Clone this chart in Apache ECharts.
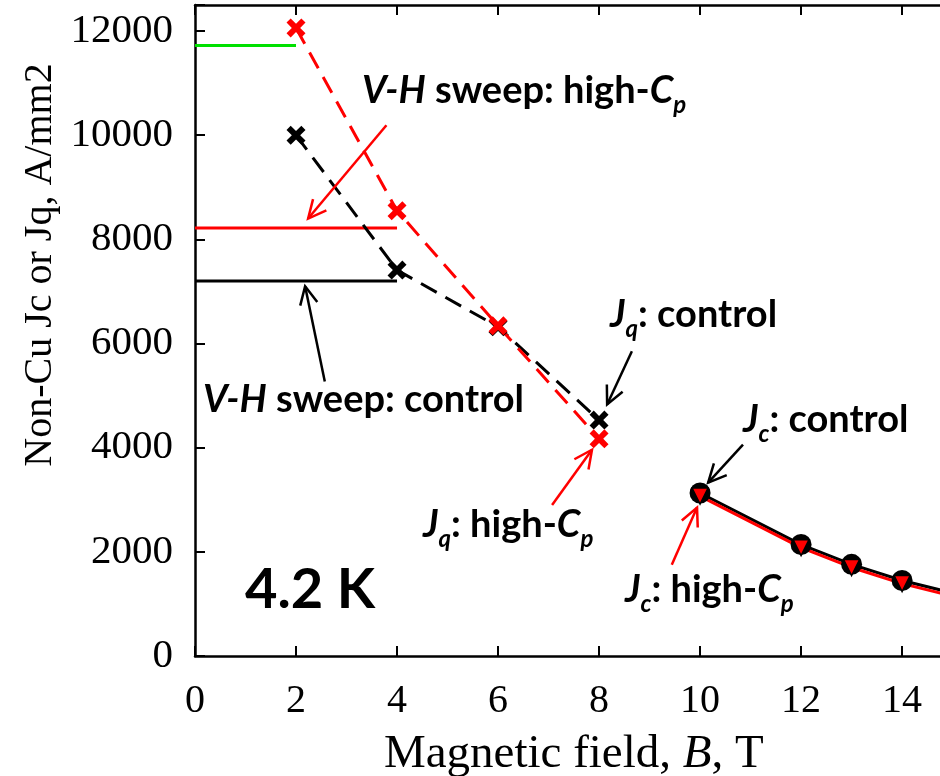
<!DOCTYPE html>
<html><head><meta charset="utf-8">
<script src="https://cdn.jsdelivr.net/npm/echarts@6/dist/echarts.min.js"></script>
<style>html,body{margin:0;padding:0;background:#fff}#c{width:940px;height:776px}</style>
</head><body><div id="c"></div>
<script>
// ---- data ----
const greenField = [0, 2];
const greenJ = [11720, 11720];
const vhField = [0, 4];
const vhHighCp = [8220, 8220];
const vhControl = [7200, 7200];
const jqField = [2, 4, 6, 8];
const jqControl = [10000, 7410, 6320, 4530];
const jqHighCp = [12060, 8550, 6340, 4170];
const jcField = [10, 12, 13, 14, 15];
const jcControl = [3130, 2140, 1760, 1450, 1210];
const jcHighCp = [3070, 2080, 1700, 1390, 1150];
const xTickLabels = ['0', '2', '4', '6', '8', '10', '12', '14'];
const yTickLabels = ['0', '2000', '4000', '6000', '8000', '10000', '12000'];

const pairs = (xs, ys) => xs.map((x, i) => [x, ys[i]]);

const RED = '#ff0000', BLACK = '#000000', GREEN = '#00e000';
const SERIF = '"Liberation Serif", "Times New Roman", serif';
const SANS = 'Lato, "Open Sans", sans-serif';
const CROSS = 'path://M0,22L22,0L50,28L78,0L100,22L72,50L100,78L78,100L50,72L22,100L0,78L28,50Z';
const TRI_DOWN = 'path://M0,0L100,0L50,100Z';

const chart = echarts.init(document.getElementById('c'), null, {renderer: 'canvas'});

const axisCommon = {
  type: 'value', min: 0, max: 15, interval: 2,
  axisLine: {lineStyle: {color: BLACK, width: 2.5}},
  axisTick: {inside: true, length: 10, lineStyle: {color: BLACK, width: 2}},
  splitLine: {show: false}
};

const option = {
  animation: false,
  backgroundColor: '#fff',
  grid: {left: 195, top: 5, bottom: 120, right: -12.6, containLabel: false, outerBoundsMode: 'none'},
  xAxis: [
    Object.assign({}, axisCommon, {
      position: 'bottom',
      axisLabel: {
        color: BLACK, fontFamily: SERIF, fontSize: 40, margin: 25,
        formatter: v => xTickLabels.includes(String(v)) ? String(v) : ''
      },
      name: '{a|Magnetic field, }{b|B}{a|, T}',
      nameLocation: 'middle', nameGap: 75,
      nameTextStyle: {
        rich: {
          a: {fontFamily: SERIF, fontSize: 47, color: BLACK},
          b: {fontFamily: SERIF, fontSize: 47, color: BLACK, fontStyle: 'italic'}
        }
      }
    }),
    Object.assign({}, axisCommon, {
      position: 'top',
      axisLabel: {show: false}
    })
  ],
  yAxis: [{
    type: 'value', min: 0, max: 12500, interval: 2000,
    axisLine: {show: true, lineStyle: {color: BLACK, width: 2.5}},
    axisTick: {show: true, inside: true, length: 10, lineStyle: {color: BLACK, width: 2}},
    splitLine: {show: false},
    axisLabel: {
      color: BLACK, fontFamily: SERIF, fontSize: 41, margin: 22,
      formatter: v => yTickLabels.includes(String(v)) ? String(v) : ''
    }
  }],
  series: [
    {type: 'line', data: pairs(greenField, greenJ), showSymbol: false, symbol: 'none',
     lineStyle: {color: GREEN, width: 3}, z: 2},
    {type: 'line', data: pairs(vhField, vhHighCp), symbol: 'none',
     lineStyle: {color: RED, width: 3}, z: 2},
    {type: 'line', data: pairs(vhField, vhControl), symbol: 'none',
     lineStyle: {color: BLACK, width: 3}, z: 2},
    {type: 'line', data: pairs(jqField, jqControl), symbol: 'none',
     lineStyle: {color: BLACK, width: 3, type: [18, 10]}, z: 2},
    {type: 'line', data: pairs(jqField, jqHighCp), symbol: 'none',
     lineStyle: {color: RED, width: 3, type: [18, 10]}, z: 2},
    {type: 'line', data: pairs(jcField, jcControl), symbol: 'none',
     lineStyle: {color: BLACK, width: 3}, z: 2},
    {type: 'line', data: pairs(jcField, jcHighCp), symbol: 'none',
     lineStyle: {color: RED, width: 3}, z: 2},
    {type: 'scatter', data: pairs(jqField, jqControl), symbol: CROSS, symbolSize: 19,
     itemStyle: {color: BLACK, opacity: 1}, z: 3},
    {type: 'scatter', data: pairs(jqField, jqHighCp), symbol: CROSS, symbolSize: 19,
     itemStyle: {color: RED, opacity: 1}, z: 3},
    {type: 'scatter', data: pairs(jcField, jcControl), symbol: 'circle', symbolSize: 21,
     itemStyle: {color: BLACK, opacity: 1}, z: 3},
    {type: 'scatter', data: pairs(jcField, jcHighCp), symbol: TRI_DOWN, symbolSize: [16, 16],
     itemStyle: {color: RED, borderColor: BLACK, borderWidth: 1.5, opacity: 1}, z: 4}
  ]
};
chart.setOption(option);

// ---- annotations ----
const mainRich = (color) => ({
  n: {fontFamily: SANS, fontWeight: 'bold', fontSize: 38, lineHeight: 52, color},
  i: {fontFamily: SANS, fontWeight: 'bold', fontStyle: 'italic', fontSize: 38, lineHeight: 52, color},
  s: {fontFamily: SANS, fontWeight: 'bold', fontStyle: 'italic', fontSize: 24, color,
      verticalAlign: 'top', padding: [28, 0, 0, 0]}
});
const labels = [
  {text: '{i|V-H}{n| sweep: high-}{i|C}{s|p}', x: 362, y: 91, color: RED},
  {text: '{i|V-H}{n| sweep: control}', x: 203, y: 400, color: BLACK},
  {text: '{i|J}{s|q}{n|: control}', x: 610, y: 315, color: BLACK},
  {text: '{i|J}{s|q}{n|: high-}{i|C}{s|p}', x: 423, y: 525, color: RED},
  {text: '{i|J}{s|c}{n|: control}', x: 743, y: 420, color: BLACK},
  {text: '{i|J}{s|c}{n|: high-}{i|C}{s|p}', x: 625, y: 590, color: RED}
];
// arrows in data units
const arrows = [
  {from: [3.79, 10190], to: [2.24, 8400], color: RED},
  {from: [2.57, 5270], to: [2.18, 7100], color: BLACK},
  {from: [8.65, 5850], to: [8.16, 4830], color: BLACK},
  {from: [7.07, 2900], to: [7.86, 3960], color: RED},
  {from: [10.85, 4060], to: [10.16, 3330], color: BLACK},
  {from: [9.44, 1750], to: [9.94, 2850], color: RED}
];

const graphic = [];
labels.forEach(l => {
  graphic.push({type: 'text', z: 10, style: {
    text: l.text, x: l.x, y: l.y, align: 'left', verticalAlign: 'middle',
    rich: mainRich(l.color)
  }});
});
graphic.push({type: 'text', z: 10, style: {
  text: '4.2 K', x: 245, y: 590, align: 'left', verticalAlign: 'middle',
  fontFamily: SANS, fontWeight: 'bold', fontSize: 56, fill: BLACK
}});
graphic.push({type: 'text', z: 10, rotation: Math.PI / 2, x: 40, y: 265, style: {
  text: 'Non-Cu Jc or Jq, A/mm2', x: 0, y: 0, align: 'center', verticalAlign: 'middle',
  fontFamily: SERIF, fontSize: 40, fill: BLACK
}});
arrows.forEach(a => {
  const p0 = chart.convertToPixel({gridIndex: 0}, a.from);
  const p1 = chart.convertToPixel({gridIndex: 0}, a.to);
  const ang = Math.atan2(p0[1] - p1[1], p0[0] - p1[0]);
  const L = 20, w = 0.45;
  const h1 = [p1[0] + L * Math.cos(ang + w), p1[1] + L * Math.sin(ang + w)];
  const h2 = [p1[0] + L * Math.cos(ang - w), p1[1] + L * Math.sin(ang - w)];
  graphic.push({type: 'polyline', z: 10, shape: {points: [p0, p1]},
    style: {stroke: a.color, lineWidth: 2.5, fill: null}});
  graphic.push({type: 'polyline', z: 10, shape: {points: [h1, p1, h2]},
    style: {stroke: a.color, lineWidth: 2.5, fill: null}});
});
chart.setOption({graphic});
</script>
</body></html>
